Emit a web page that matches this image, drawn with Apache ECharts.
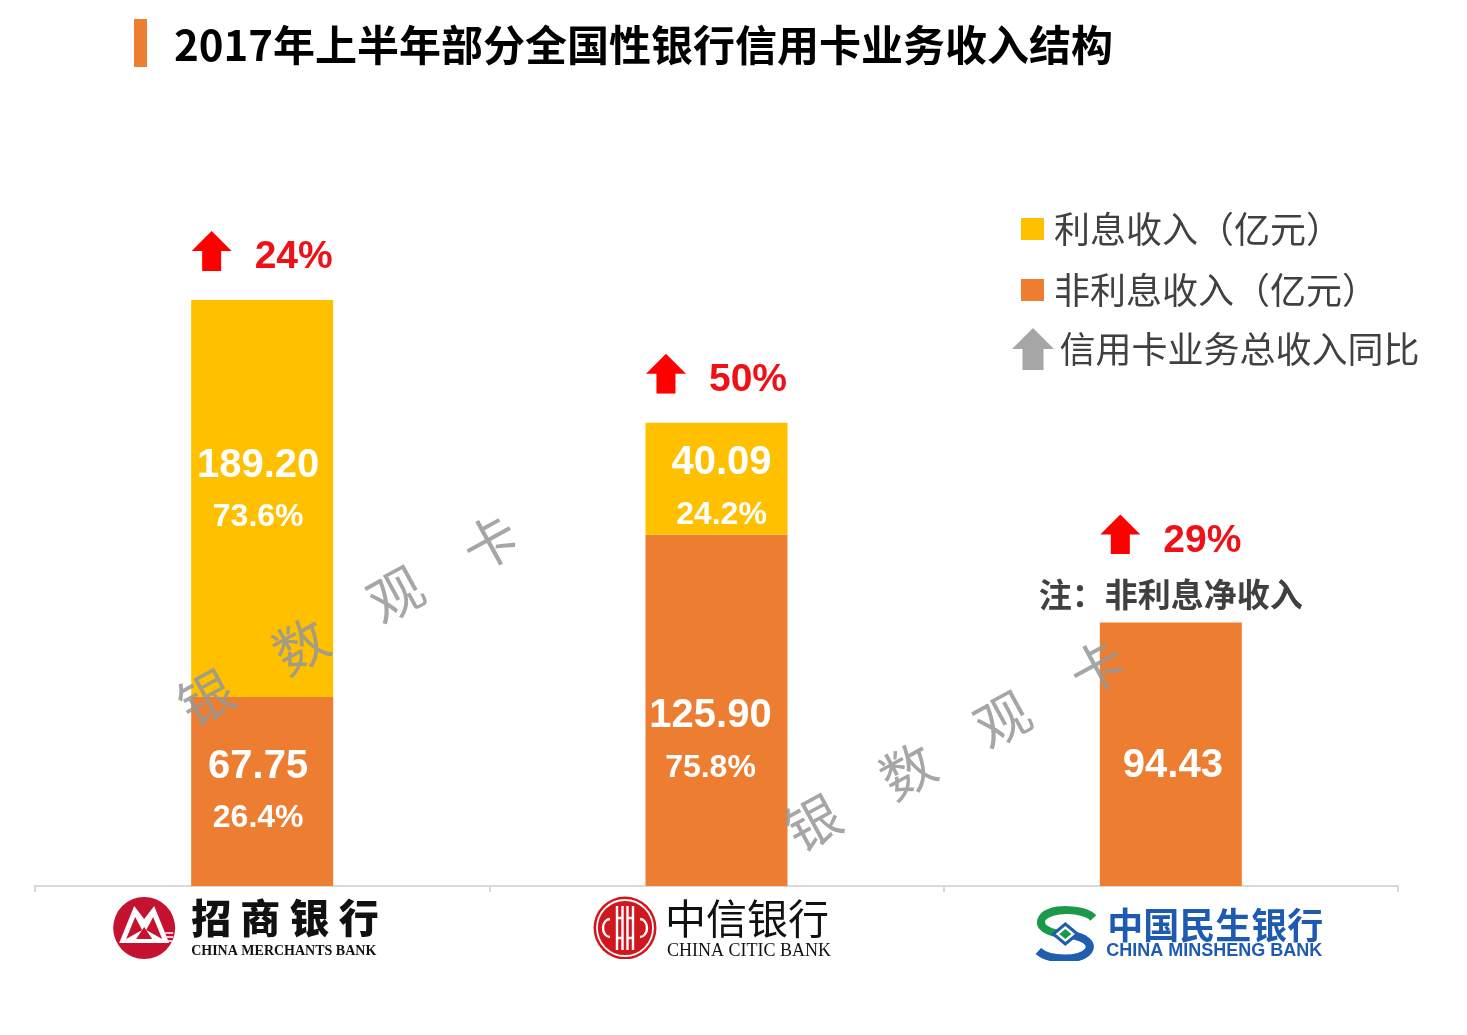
<!DOCTYPE html>
<html><head><meta charset="utf-8">
<script src="https://cdn.jsdelivr.net/npm/echarts@6/dist/echarts.min.js"></script>
<style>html,body{margin:0;padding:0;background:#fff}#c{width:1467px;height:1035px}</style>
</head><body><div id="c"></div>
<script>
// ---------- data ----------
const titleText = '2017年上半年部分全国性银行信用卡业务收入结构';
const categories = ['招商银行', '中信银行', '中国民生银行'];
const categoriesEn = ['CHINA MERCHANTS BANK', 'CHINA CITIC BANK', 'CHINA MINSHENG BANK'];
const interestIncome = [189.20, 40.09, null];
const nonInterestIncome = [67.75, 125.90, 94.43];
const interestShare = ['73.6%', '24.2%', null];
const nonInterestShare = ['26.4%', '75.8%', null];
const totalGrowth = ['24%', '50%', '29%'];
const notes = ['', '', '注：非利息净收入'];
const seriesNames = ['利息收入（亿元）', '非利息收入（亿元）', '信用卡业务总收入同比'];
const watermark = '银　数　观　卡';

// ---------- styles ----------
const C_YEL = '#FFC000', C_ORG = '#ED7D31', C_GREY = '#A6A6A6';
const interestLabelOffset = [[-4, -7], [5, 10], [0, 0]];
const nonInterestLabelOffset = [[-4, 1], [-6, 32], [2, 12]];
const growthLabelDistance = [23, 23, 12];

const svgUri = s => 'data:image/svg+xml;charset=utf-8,' + encodeURIComponent(s);
const redArrow = svgUri("<svg xmlns='http://www.w3.org/2000/svg' width='40' height='40' viewBox='0 0 40 40'><path d='M20 0 L40 20 L29.5 20 L29.5 40 L10.5 40 L10.5 20 L0 20 Z' fill='#FF0000'/></svg>");
const cmbLogo = svgUri("<svg xmlns='http://www.w3.org/2000/svg' width='64' height='66' viewBox='0 0 64 66'>" +
  "<circle cx='32' cy='35' r='31' fill='#C41230'/>" +
  "<path d='M7 50 L22 13 L32 26 L42 13 L57 50 Z' fill='#fff'/>" +
  "<path d='M14 46 L23 24 L30 37 Z M50 46 L41 24 L34 37 Z M24 46 L32 34 L40 46 Z' fill='#C41230'/>" +
  "<path d='M53 40 H61 M53 44 H61 M53 48 H60' stroke='#fff' stroke-width='1.4'/></svg>");
const citicLogo = svgUri("<svg xmlns='http://www.w3.org/2000/svg' width='64' height='66' viewBox='0 0 64 66'>" +
  "<circle cx='32' cy='35' r='31.5' fill='#D2161E'/>" +
  "<circle cx='32' cy='35' r='28' fill='none' stroke='#fff' stroke-width='1.8'/>" +
  "<g stroke='#fff' stroke-width='2.4' fill='none'>" +
  "<path d='M17 26 A7 9 0 0 0 17 44'/><path d='M47 26 A7 9 0 0 1 47 44'/>" +
  "<path d='M24 13 V57 M29.5 13 V57 M34.5 13 V57 M40 13 V57'/>" +
  "<path d='M24 25 H29.5 M34.5 25 H40 M24 45 H29.5 M34.5 45 H40'/></g></svg>");
const msLogo = svgUri("<svg xmlns='http://www.w3.org/2000/svg' width='66' height='68' viewBox='0 0 66 68'>" +
  "<path d='M61 25 C52 15 18 14 10 25 C5 33 14 39 28 41' stroke='#1A9A48' stroke-width='8' fill='none'/>" +
  "<path d='M38 42 C52 44 61 50 56 58 C48 68 17 68 6 58' stroke='#1F5DAD' stroke-width='8' fill='none'/>" +
  "<path d='M33 31 L45 41 L33 51 L21 41 Z' stroke='#1F5DAD' stroke-width='3' fill='#fff'/>" +
  "<path d='M33 36 L39 41 L33 46 L27 41 Z' fill='#1A9A48'/></svg>");

const ARROW_PATH = 'path://M20 0 L40 20 L30 20 L30 40 L10 40 L10 20 L0 20 Z';
const NUM_FONT = '"Liberation Sans", Arial, sans-serif';
const CJK_FONT = '"Noto Sans CJK SC", "Noto Sans", sans-serif';

const totals = nonInterestIncome.map((v, i) => v + (interestIncome[i] || 0));

const insideRich = {
  v: { fontSize: 40, fontWeight: 'bold', color: '#fff', fontFamily: NUM_FONT, lineHeight: 52 },
  p: { fontSize: 32, fontWeight: 'bold', color: '#fff', fontFamily: NUM_FONT, lineHeight: 52 }
};
const insideFmt = (vals, shares) => p => {
  const v = vals[p.dataIndex];
  return '{v|' + v.toFixed(2) + '}' + (shares[p.dataIndex] ? '\n{p|' + shares[p.dataIndex] + '}' : '');
};

// axis label rich (logos + names)
const L = { align: 'left' };
const axisRich = {
  logo0: Object.assign({ width: 64, height: 66, lineHeight: 50, verticalAlign: 'top', backgroundColor: { image: cmbLogo } }, L),
  logo1: Object.assign({ width: 64, height: 66, lineHeight: 50, verticalAlign: 'top', backgroundColor: { image: citicLogo } }, L),
  logo2: Object.assign({ width: 66, height: 68, lineHeight: 50, verticalAlign: 'top', backgroundColor: { image: msLogo } }, L),
  n0: Object.assign({ width: 186, fontSize: 40, fontWeight: 900, color: '#111', fontFamily: CJK_FONT, lineHeight: 50 }, L),
  n1: Object.assign({ width: 168, fontSize: 41, fontWeight: 'normal', color: '#111', fontFamily: CJK_FONT, lineHeight: 50 }, L),
  n2: Object.assign({ width: 220, fontSize: 36, fontWeight: 'bold', color: '#1E5BB0', fontFamily: CJK_FONT, lineHeight: 50, verticalAlign: 'bottom' }, L),
  e0: Object.assign({ width: 185, fontSize: 14, fontWeight: 'bold', color: '#111', fontFamily: '"Liberation Serif", serif', lineHeight: 16 }, L),
  e1: Object.assign({ width: 165, fontSize: 18, color: '#111', fontFamily: '"Liberation Serif", serif', lineHeight: 16 }, L),
  e2: Object.assign({ width: 219, fontSize: 18, fontWeight: 'bold', color: '#1E5BB0', fontFamily: NUM_FONT, lineHeight: 16 }, L),
  g15: Object.assign({ width: 15, lineHeight: 50 }, L),
  g8: Object.assign({ width: 8, lineHeight: 50 }, L),
  g9: Object.assign({ width: 9, lineHeight: 50 }, L),
  t35: Object.assign({ width: 35, lineHeight: 50 }, L),
  t7: Object.assign({ width: 7, lineHeight: 50 }, L),
  l18: Object.assign({ width: 18, lineHeight: 50 }, L),
  l18b: Object.assign({ width: 18, lineHeight: 16 }, L),
  p79: Object.assign({ width: 79, lineHeight: 16 }, L),
  p74: Object.assign({ width: 74, lineHeight: 16 }, L)
};
const axisFmt = (val, idx) => {
  const i = categories.indexOf(val);
  const en = categoriesEn[i];
  if (i === 0) return '{logo0|}{g15|}{n0|' + val.split('').join(' ') + '}{t35|}\n{p79|}{e0|' + en + '}';
  if (i === 1) return '{logo1|}{g8|}{n1|' + val + '}{t7|}\n{p74|}{e1|' + en + '}';
  return '{l18|}{logo2|}{g9|}{n2|' + val + '}\n{l18b|}{p74|}{e2|' + en + '}';
};

const growthRich = {
  arrow: { width: 40, height: 40, lineHeight: 46, verticalAlign: 'top', backgroundColor: { image: redArrow } },
  sp: { width: 23, lineHeight: 46 },
  pct: { fontSize: 39, fontWeight: 'bold', color: '#EE1118', fontFamily: NUM_FONT, lineHeight: 46, verticalAlign: 'bottom' },
  note: { fontSize: 33, fontWeight: 'bold', color: '#404040', fontFamily: CJK_FONT, lineHeight: 50, verticalAlign: 'bottom' }
};

const chart = echarts.init(document.getElementById('c'), null, { renderer: 'canvas' });
chart.setOption({
  animation: false,
  backgroundColor: '#fff',
  grid: { left: 35, right: 69, top: 300, bottom: 149, containLabel: false, outerBoundsMode: 'none' },
  legend: [{
    data: [seriesNames[0], seriesNames[1]],
    orient: 'vertical', left: 1021, top: 211, padding: 0,
    itemWidth: 23, itemHeight: 22, itemGap: 25, icon: 'rect', selectedMode: false,
    textStyle: { fontSize: 36, color: '#404040', fontFamily: CJK_FONT, lineHeight: 36, padding: [0, 0, 0, 5] }
  }, {
    data: [{ name: seriesNames[2], icon: ARROW_PATH, itemStyle: { color: C_GREY } }],
    orient: 'vertical', left: 1012, top: 328, padding: 0,
    itemWidth: 43, itemHeight: 42, selectedMode: false,
    textStyle: { fontSize: 36, color: '#404040', fontFamily: CJK_FONT, lineHeight: 42, padding: [0, 0, 0, 0] }
  }],
  xAxis: {
    type: 'category', data: categories,
    axisLine: { lineStyle: { color: '#D9D9D9', width: 2 } },
    axisTick: { show: true, length: 6, lineStyle: { color: '#D9D9D9', width: 2 } },
    axisLabel: { interval: 0, margin: 7, formatter: axisFmt, rich: axisRich }
  },
  yAxis: { type: 'value', min: 0, max: 210, show: false, splitLine: { show: false } },
  series: [{
    name: seriesNames[1], type: 'bar', stack: 'income', barWidth: 142,
    itemStyle: { color: C_ORG }, emphasis: { disabled: true },
    data: nonInterestIncome.map((v, i) => ({ value: v, label: { offset: nonInterestLabelOffset[i] } })),
    label: { show: true, position: 'inside', formatter: insideFmt(nonInterestIncome, nonInterestShare), rich: insideRich }
  }, {
    name: seriesNames[0], type: 'bar', stack: 'income', barWidth: 142,
    itemStyle: { color: C_YEL }, emphasis: { disabled: true },
    data: interestIncome.map((v, i) => ({ value: v == null ? '-' : v, label: { offset: interestLabelOffset[i] } })),
    label: { show: true, position: 'inside', formatter: insideFmt(interestIncome, interestShare), rich: insideRich }
  }, {
    name: seriesNames[2], type: 'bar', barWidth: 142, barGap: '-100%',
    itemStyle: { color: 'rgba(0,0,0,0)' }, emphasis: { disabled: true }, silent: true,
    data: totals.map((v, i) => ({ value: v, label: { distance: growthLabelDistance[i] } })),
    label: {
      show: true, position: 'top',
      formatter: p => '{arrow|}{sp|}{pct|' + totalGrowth[p.dataIndex] + '}' + (notes[p.dataIndex] ? '\n{note|' + notes[p.dataIndex] + '}' : ''),
      rich: growthRich
    }
  }],
  graphic: [
    { type: 'rect', left: 134, top: 19, shape: { width: 13, height: 48 }, style: { fill: C_ORG } },
    { type: 'text', x: 174, y: 45, style: { text: titleText, fontSize: 42, fontWeight: 'bold', fontFamily: CJK_FONT, fill: '#000', align: 'left', verticalAlign: 'middle' } },
    { type: 'text', x: 348, y: 620, rotation: 0.5, z: 100, style: { text: watermark, fontSize: 54, fontFamily: CJK_FONT, fill: 'rgba(150,150,150,0.85)', align: 'center', verticalAlign: 'middle' } },
    { type: 'text', x: 955, y: 745, rotation: 0.5, z: 100, style: { text: watermark, fontSize: 54, fontFamily: CJK_FONT, fill: 'rgba(150,150,150,0.85)', align: 'center', verticalAlign: 'middle' } }
  ]
});
</script></body></html>
